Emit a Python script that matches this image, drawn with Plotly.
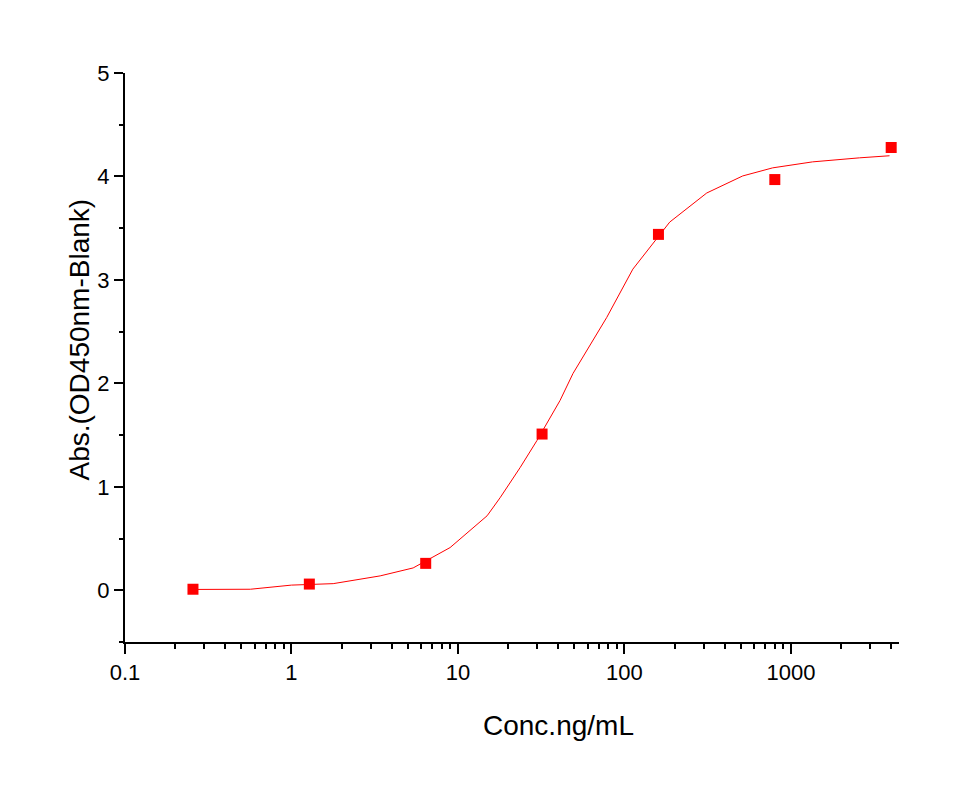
import plotly.graph_objects as go

# measured data points
conc = [0.256, 1.28, 6.4, 32, 160, 800, 4000]
absorb = [0.01, 0.06, 0.26, 1.51, 3.44, 3.97, 4.28]

# fitted curve
curve_x = [0.2576, 0.566, 1.0, 1.78, 3.41, 5.38, 8.97, 14.96, 17.9, 23.6, 29.8, 41.0,
           49.1, 78.3, 112.3, 187, 312, 513, 776, 1349, 2582, 3909]
curve_y = [0.008, 0.01, 0.05, 0.064, 0.139, 0.216, 0.413, 0.72, 0.894, 1.185, 1.447, 1.834,
           2.096, 2.638, 3.104, 3.559, 3.84, 4.005, 4.083, 4.141, 4.18, 4.20]

x_major = [0.1, 1, 10, 100, 1000]
x_major_labels = ["0.1", "1", "10", "100", "1000"]
x_minor = [m * d for d in [0.1, 1, 10, 100, 1000] for m in range(2, 10) if m * d < 4460]
y_major = [0, 1, 2, 3, 4, 5]
y_minor = [-0.5, 0.5, 1.5, 2.5, 3.5, 4.5]

fig = go.Figure()
fig.add_trace(go.Scatter(x=curve_x, y=curve_y, mode="lines",
                         line=dict(color="#ff0000", width=1), showlegend=False,
                         hoverinfo="skip"))
fig.add_trace(go.Scatter(x=conc, y=absorb, mode="markers",
                         marker=dict(symbol="square", size=11, color="#ff0000"),
                         showlegend=False))

font_family = "Liberation Sans, Arial, sans-serif"
fig.update_layout(
    width=940, height=784,
    margin=dict(l=116.5, r=49, t=65, b=150, autoexpand=False),
    paper_bgcolor="white", plot_bgcolor="white",
    font=dict(family=font_family, color="black", size=22),
    xaxis=dict(type="log", range=[-1, 3.649], showgrid=False, zeroline=False,
               showline=True, linecolor="black", linewidth=2,
               tickmode="array", tickvals=x_major, ticktext=x_major_labels,
               ticks="outside", ticklen=10, tickwidth=2, tickcolor="black",
               tickfont=dict(size=22),
               minor=dict(tickmode="array", tickvals=x_minor, ticks="outside",
                          ticklen=5, tickwidth=2, tickcolor="black", showgrid=False)),
    yaxis=dict(range=[-0.5, 5], showgrid=False, zeroline=False,
               showline=True, linecolor="black", linewidth=2,
               tickmode="array", tickvals=y_major,
               ticks="outside", ticklen=9, tickwidth=2, tickcolor="black",
               tickfont=dict(size=22),
               minor=dict(tickmode="array", tickvals=y_minor, ticks="outside",
                          ticklen=4, tickwidth=2, tickcolor="black", showgrid=False)),
    annotations=[
        dict(text="Conc.ng/mL", xref="paper", yref="paper",
             x=(558 - 124.5) / (899 - 124.5), y=-(725 - 642) / (642 - 73),
             xanchor="center", yanchor="middle", showarrow=False,
             font=dict(size=28, family=font_family)),
        dict(text="Abs.(OD450nm-Blank)", xref="paper", yref="paper",
             x=-(124.5 - 78) / (899 - 124.5), y=(642 - 340) / (642 - 73),
             xanchor="center", yanchor="middle", showarrow=False, textangle=-90,
             font=dict(size=28, family=font_family)),
    ],
)

fig.write_html("out.html")
